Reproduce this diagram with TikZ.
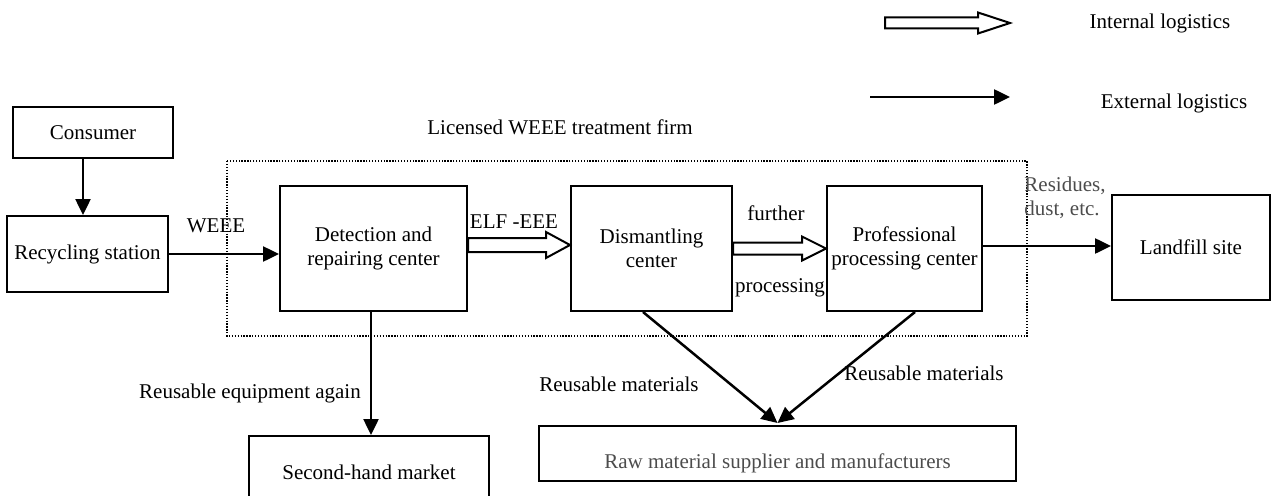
\documentclass[tikz,border=0pt]{standalone}
\usepackage{fontspec}
\setmainfont{Liberation Serif}
\usetikzlibrary{calc}
\usetikzlibrary{arrows.meta}
\usetikzlibrary{positioning}

\begin{document}
\begin{tikzpicture}[x=1pt,y=-1pt,
  every node/.style={font=\fontsize{21}{24}\selectfont},
  box/.style={draw,line width=2pt,align=center,inner sep=2pt},
  ext/.style={-{Triangle[length=16pt,width=15pt]},line width=2.5pt},
  int/.style={line width=2pt,line join=miter},
  hollow/.style n args={3}{to path={let \p1=(\tikztostart), \p2=(\tikztotarget) in
     (\x1,\y1+#1) -- (\x2-#3,\y1+#1) -- (\x2-#3,\y1+#2) -- (\x2,\y1)
     -- (\x2-#3,\y1-#2) -- (\x2-#3,\y1-#1) -- (\x1,\y1-#1) -- cycle}},
  firm/.style={line width=1.3pt,dash pattern=on 1.3pt off 1.6pt}
]
\useasboundingbox (0,0) rectangle (1273,495);

% legend
\coordinate (in1) at (885,23);
\coordinate (in2) at (1010,23);
\coordinate (ex1) at (870,97);
\coordinate (ex2) at (1010,97);
\draw[int] (in1) to[hollow={5.5pt}{10.5pt}{32pt}] (in2);
\draw[ext] (ex1) -- (ex2);
\node (inlab) at (1160,23) {Internal logistics};
\node (exlab) at (1174,103) {External logistics};

% treatment firm
\draw[firm] (227,161) rectangle (1027,336);
\node (firmlab) at (560,127) {Licensed WEEE treatment firm};

% boxes
\node[box,minimum width=160pt,minimum height=51pt] (consumer) at (93,132.5) {Consumer};
\node[box,minimum width=161pt,minimum height=76pt] (recycle) at (87.5,254) {Recycling station};
\node[box,minimum width=187pt,minimum height=125pt] (detect) at (373.5,248.5) {Detection and\\repairing center};
\node[box,minimum width=161pt,minimum height=125pt] (dismantle) at (651.5,248.5) {Dismantling\\center};
\node[box,minimum width=155pt,minimum height=125pt] (prof) at (904.5,248.5) {Professional\\processing center};
\node[box,minimum width=158pt,minimum height=105pt] (landfill) at (1191,247.5) {Landfill site};
\node[box,minimum width=240pt,minimum height=72pt] (second) at (369,472) {Second-hand market};
\node[box,minimum width=477pt,minimum height=55pt,text height=34pt,text depth=5pt,text=black!70] (raw) at (777.5,453.5) {Raw material supplier and manufacturers};

% flows
\draw[ext] ([xshift=-10pt]consumer.south) -- ([xshift=-10pt]consumer.south |- recycle.north);
\draw[ext] (recycle.east) -- (recycle.east -| detect.west);
\draw[int] ([yshift=3.5pt]detect.east) to[hollow={7pt}{13pt}{24pt}] ([yshift=3.5pt]dismantle.west);
\draw[int] (dismantle.east) to[hollow={6pt}{12pt}{24pt}] (prof.west);
\draw[ext] ([yshift=2.5pt]prof.east) -- ([yshift=2.5pt]prof.east -| landfill.west);
\draw[ext] ([xshift=-2.5pt]detect.south) -- ([xshift=-2.5pt]detect.south |- second.north);
\draw[ext] ([xshift=-8.5pt]dismantle.south) -- ([yshift=2pt]raw.north);
\draw[ext] ([xshift=10.5pt]prof.south) -- ([yshift=2pt]raw.north);

% labels
\node (weee) at (216,226) {WEEE};
\node (elf) at (514,222) {ELF -EEE};
\node (further) at (776,213) {further};
\node (proc) at (780,288) {processing};
\node[align=left,text=black!70] (resid) at (1065,198) {Residues,\\dust, etc.};
\node (reuseeq) at (250,393) {Reusable equipment again};
\node (reusem1) at (619,384) {Reusable materials};
\node (reusem2) at (924,373) {Reusable materials};
\end{tikzpicture}
\end{document}
